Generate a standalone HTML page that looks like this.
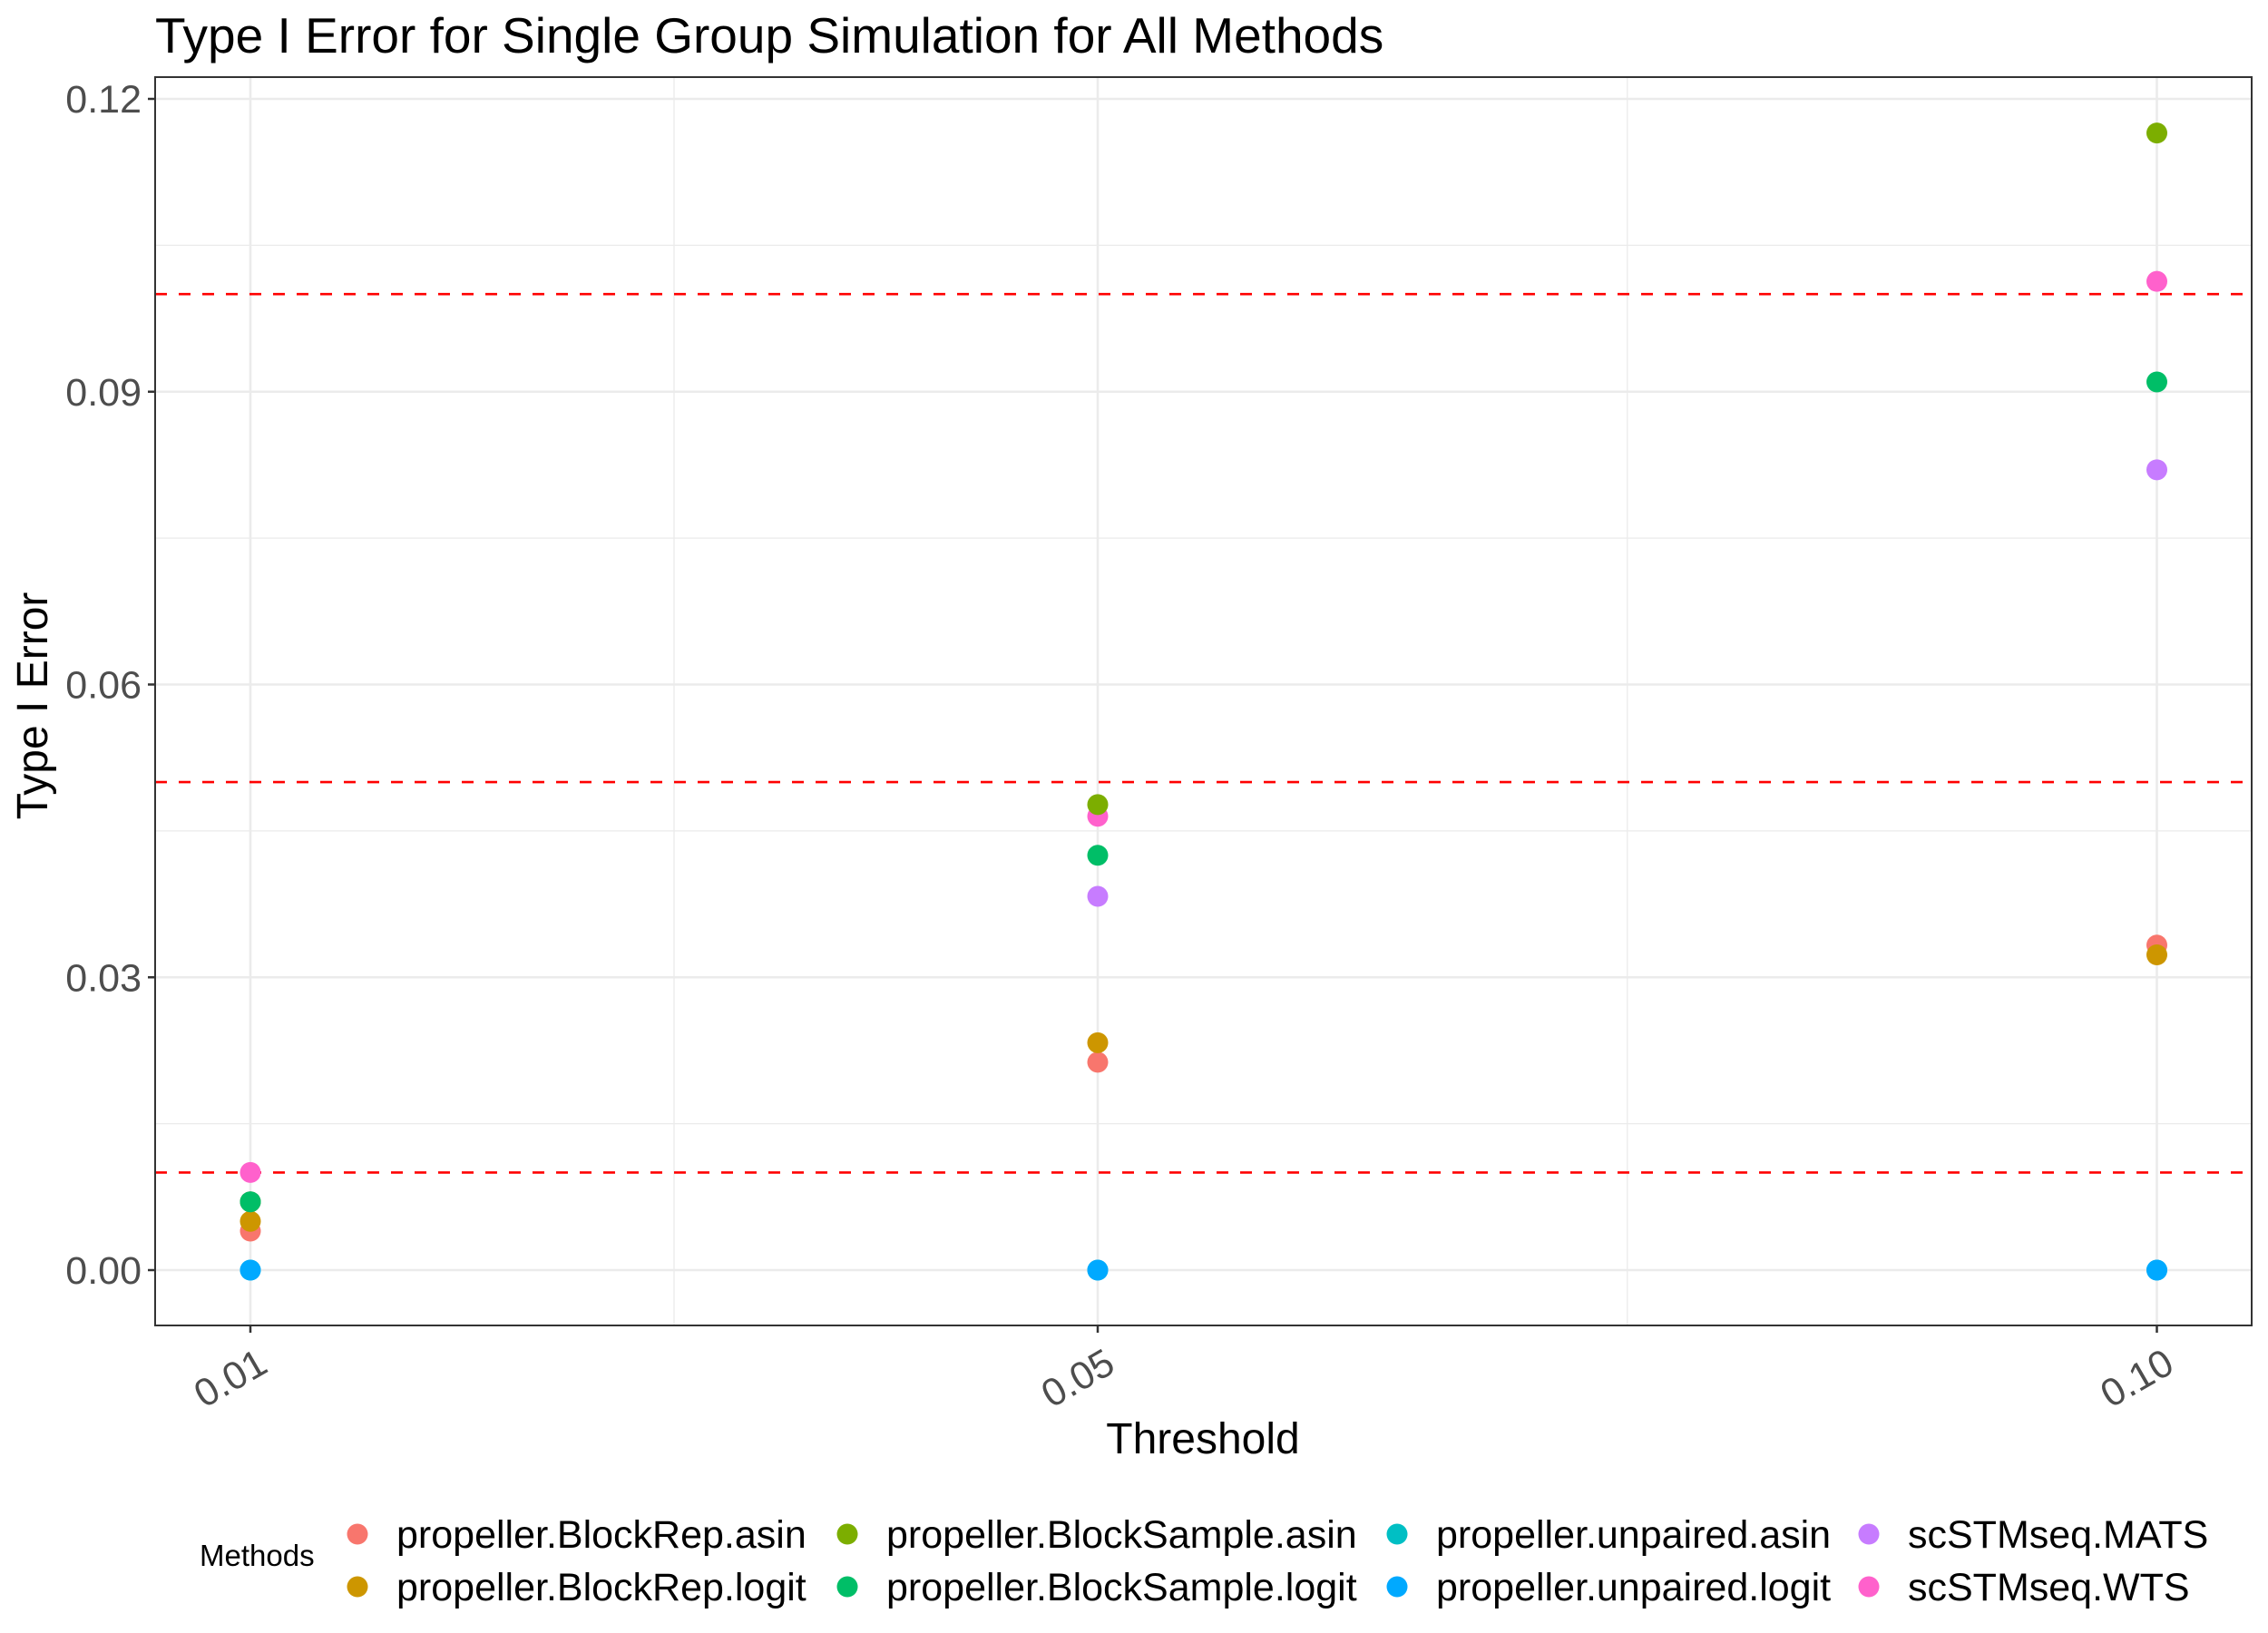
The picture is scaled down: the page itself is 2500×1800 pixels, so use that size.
<!DOCTYPE html>
<html><head><meta charset="utf-8"><style>
html,body{margin:0;padding:0;background:#fff}
svg{display:block;font-family:"Liberation Sans",Arial,sans-serif}
</style></head><body>
<svg id="chart" width="2500" height="1800" viewBox="0 0 2500 1800" xmlns="http://www.w3.org/2000/svg">
<rect width="2500" height="1800" fill="#fff"/>
<text x="171" y="58" font-size="55" fill="#000">Type I Error for Single Group Simulation for All Methods</text>
<g id="grid"></g><g id="refs"></g><g id="pts"></g>
<rect x="171" y="85" width="2311" height="1376" fill="none" stroke="#333" stroke-width="2"/>
<g id="axes"></g>
<text x="1326" y="1602" font-size="48" text-anchor="middle">Threshold</text>
<text transform="translate(52,778) rotate(-90)" font-size="48" text-anchor="middle">Type I Error</text>
<g id="legend">
<text x="220" y="1726" font-size="33">Methods</text>
</g>
</svg>
<script>
const methods=["propeller.BlockRep.asin","propeller.BlockRep.logit","propeller.BlockSample.asin","propeller.BlockSample.logit","propeller.unpaired.asin","propeller.unpaired.logit","scSTMseq.MATS","scSTMseq.WTS"];
const colors=["#F8766D","#CD9600","#7CAE00","#00BE67","#00BFC4","#00A9FF","#C77CFF","#FF61CC"];
const thresholds=[0.01,0.05,0.10];
const thresholdLabels=["0.01","0.05","0.10"];
const yTicks=[0,0.03,0.06,0.09,0.12];
const yTickLabels=["0.00","0.03","0.06","0.09","0.12"];
const yMinor=[0.015,0.045,0.075,0.105];
const xMinor=[0.03,0.075];
const refLines=[0.01,0.05,0.10];
const vBRasin=[0.004,0.0213,0.0333];
const vBRlogit=[0.005,0.0233,0.0323];
const vBSasin=[0.007,0.0477,0.1165];
const vBSlogit=[0.007,0.0425,0.091];
const vUPasin=[0,0,0];
const vUPlogit=[0,0,0];
const vMATS=[0.007,0.0383,0.082];
const vWTS=[0.010,0.0465,0.1013];
const series=[vBRasin,vBRlogit,vBSasin,vBSlogit,vUPasin,vUPlogit,vMATS,vWTS];
const drawOrder=[0,1,6,7,2,3,4,5];
const NS="http://www.w3.org/2000/svg";
const X=v=>276+(v-0.01)*23350;
const Y=v=>1400-v/0.12*1291;
function mk(parent,tag,attrs){const e=document.createElementNS(NS,tag);for(const k in attrs)e.setAttribute(k,attrs[k]);document.getElementById(parent).appendChild(e);return e;}
yMinor.forEach(v=>{const e=mk("grid","line",{x1:171,x2:2482,y1:Y(v),y2:Y(v),stroke:"#ebebeb","stroke-width":1.3});

});
xMinor.forEach(v=>{const e=mk("grid","line",{x1:X(v),x2:X(v),y1:85,y2:1461,stroke:"#ebebeb","stroke-width":1.3});

});
yTicks.forEach((v,i)=>{const e=mk("grid","line",{x1:171,x2:2482,y1:Y(v),y2:Y(v),stroke:"#ebebeb","stroke-width":2.6});


const t=mk("axes","line",{x1:163,x2:171,y1:Y(v),y2:Y(v),stroke:"#333","stroke-width":2.5});


const l=mk("axes","text",{x:156,y:Y(v)+15,"font-size":43,fill:"#4d4d4d","text-anchor":"end"});l.textContent=yTickLabels[i];

});
thresholds.forEach((v,i)=>{const e=mk("grid","line",{x1:X(v),x2:X(v),y1:85,y2:1461,stroke:"#ebebeb","stroke-width":2.6});


const t=mk("axes","line",{x1:X(v),x2:X(v),y1:1461,y2:1469,stroke:"#333","stroke-width":2.5});


const l=mk("axes","text",{transform:`translate(${X(v)+6},${1484}) rotate(-30)`,"font-size":43,fill:"#4d4d4d","text-anchor":"end",dy:"0.72em"});l.textContent=thresholdLabels[i];

});
refLines.forEach(v=>{const e=mk("refs","line",{x1:171,x2:2482,y1:Y(v),y2:Y(v),stroke:"#ff0000","stroke-width":2.6,"stroke-dasharray":"13,13"});

});
drawOrder.forEach(si=>{series[si].forEach((v,j)=>{const c=mk("pts","ellipse",{cx:X(thresholds[j]),cy:Y(v),rx:11.5,ry:11.5,fill:colors[si]});

});});
const lx=[394,934,1540,2060],ly=[1691,1749];
methods.forEach((m,i)=>{const col=Math.floor(i/2),row=i%2;
const c=mk("legend","circle",{cx:lx[col],cy:ly[row],r:11.5,fill:colors[i]});


const t=mk("legend","text",{x:lx[col]+43,y:ly[row]+15,"font-size":43,fill:"#000"});t.textContent=m;

});
</script>
</body></html>
